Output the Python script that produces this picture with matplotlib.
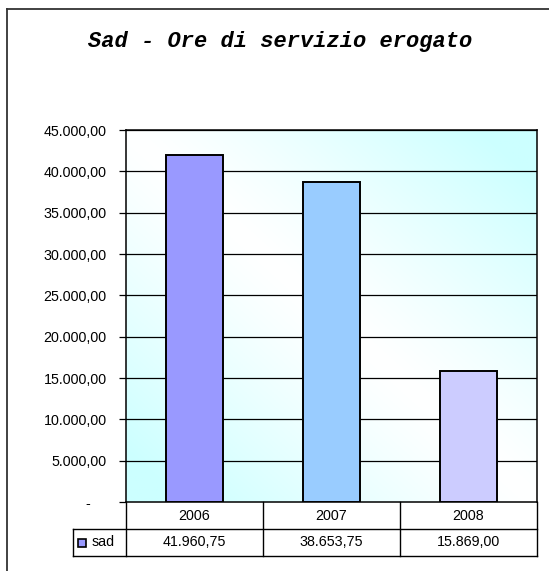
import matplotlib
matplotlib.use('Agg')
import matplotlib.pyplot as plt
import matplotlib.transforms as mtransforms
from matplotlib.lines import Line2D
import numpy as np

# data
years = ['2006', '2007', '2008']
sad_hours = [41960.75, 38653.75, 15869.00]
series_name = 'sad'
bar_colors = ['#9999FF', '#99CCFF', '#CCCCFF']
title = 'Sad - Ore di servizio erogato'
y_ticks = list(range(0, 45001, 5000))


def it_fmt(v):
    # Italian number format: 41.960,75
    s = f"{v:,.2f}"
    return s.replace(',', '#').replace('.', ',').replace('#', '.')


W, H = 549, 571
fig = plt.figure(figsize=(W / 100, H / 100), dpi=100)
fig.patch.set_facecolor('white')

ax = fig.add_axes([126 / W, (H - 502) / H, (537 - 126) / W, (502 - 130) / H])

# gradient background (cyan corners, white diagonal)
gx, gy = np.meshgrid(np.linspace(0, 1, 200), np.linspace(0, 1, 200))
t = np.abs(gx + gy - 1.0)
t = np.clip(t * 1.15, 0, 1) ** 1.2
white = np.array([1.0, 1.0, 1.0])
cyan = np.array([0.80, 1.0, 1.0])
img = white[None, None, :] * (1 - t[..., None]) + cyan[None, None, :] * t[..., None]
ax.imshow(img, extent=[0, 1, 0, 1], transform=ax.transAxes, origin='lower',
          aspect='auto', zorder=0)

x = np.arange(len(years))
ax.bar(x, sad_hours, width=0.41, color=bar_colors, edgecolor='black',
       linewidth=1.4, zorder=3)

fs = 10.3
ax.set_xlim(-0.5, len(years) - 0.5)
ax.set_ylim(0, 45000)
ax.set_yticks(y_ticks)
ax.set_yticklabels(['-    ' if v == 0 else it_fmt(v) for v in y_ticks],
                   family='Liberation Sans', fontsize=fs)
ax.set_xticks([])
for v in y_ticks[1:]:
    ax.axhline(v, color='black', linewidth=0.9, zorder=1)
ax.tick_params(axis='y', direction='out', length=5, width=0.9, pad=9)
for sp in ax.spines.values():
    sp.set_color('black')
    sp.set_linewidth(1.1)

# data table below the plot
trans = mtransforms.blended_transform_factory(ax.transData, ax.transAxes)
row_h = 27 / (502 - 130)
leg_left = -0.5 - (126 - 73) / ((537 - 126) / 3)
n = len(years)
lw = 1.0
# horizontal lines
ax.add_line(Line2D([leg_left, n - 0.5], [-row_h, -row_h], transform=trans,
                   color='black', lw=lw, clip_on=False))
ax.add_line(Line2D([leg_left, n - 0.5], [-2 * row_h, -2 * row_h], transform=trans,
                   color='black', lw=lw, clip_on=False))
# vertical lines
for i in range(n + 1):
    ax.add_line(Line2D([i - 0.5, i - 0.5], [0, -2 * row_h], transform=trans,
                       color='black', lw=lw, clip_on=False))
ax.add_line(Line2D([leg_left, leg_left], [-row_h, -2 * row_h], transform=trans,
                   color='black', lw=lw, clip_on=False))

for i, (yr, v) in enumerate(zip(years, sad_hours)):
    ax.text(i, -0.5 * row_h, yr, transform=trans, ha='center', va='center',
            family='Liberation Sans', fontsize=fs)
    ax.text(i, -1.5 * row_h, it_fmt(v), transform=trans, ha='center', va='center',
            family='Liberation Sans', fontsize=fs)

ax.plot([leg_left + 0.064], [-1.5 * row_h], marker='s', markersize=5.5,
        markerfacecolor=bar_colors[0], markeredgecolor='black',
        markeredgewidth=1.2, transform=trans, clip_on=False)
ax.text(leg_left + 0.135, -1.5 * row_h, series_name, transform=trans,
        ha='left', va='center', family='Liberation Sans', fontsize=fs)

# title
fig.text(280 / W, 1 - 42 / H, title, ha='center', va='center',
         family='Liberation Mono', fontweight='bold', fontstyle='italic',
         fontsize=15.8)

# outer chart frame (clipped by the picture on the right/bottom)
fig.add_artist(Line2D([7 / W, 1.0], [1 - 9 / H, 1 - 9 / H], color='#333333', lw=1.3))
fig.add_artist(Line2D([7 / W, 7 / W], [0.0, 1 - 9 / H], color='#333333', lw=1.3))

fig.savefig('out.png', dpi=100)
